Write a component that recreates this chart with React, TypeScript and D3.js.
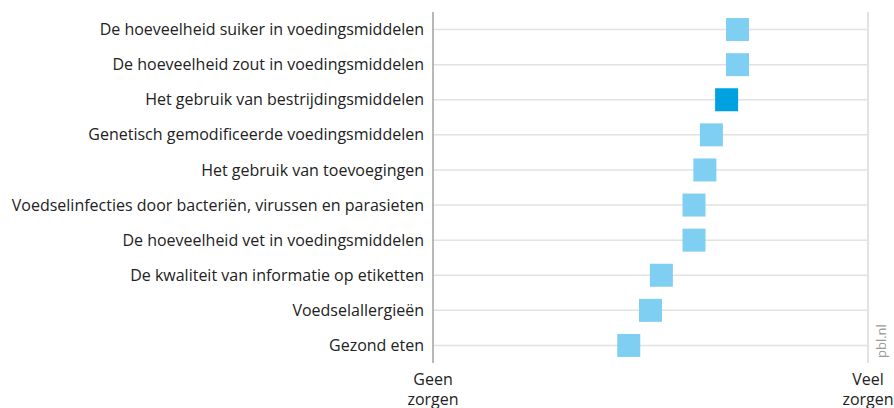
import React from "react";
import * as d3 from "d3";

const categories = [
  "De hoeveelheid suiker in voedingsmiddelen",
  "De hoeveelheid zout in voedingsmiddelen",
  "Het gebruik van bestrijdingsmiddelen",
  "Genetisch gemodificeerde voedingsmiddelen",
  "Het gebruik van toevoegingen",
  "Voedselinfecties door bacteriën, virussen en parasieten",
  "De hoeveelheid vet in voedingsmiddelen",
  "De kwaliteit van informatie op etiketten",
  "Voedselallergieën",
  "Gezond eten",
];
const values = [70, 70, 67.5, 64, 62.5, 60, 60, 52.5, 50, 45];
const highlighted = [false, false, true, false, false, false, false, false, false, false];
const axisLabels = [
  { value: 0, lines: ["Geen", "zorgen"] },
  { value: 100, lines: ["Veel", "zorgen"] },
];

const W = 894;
const H = 408;
const left = 433;
const right = 868;
const top = 12;
const bottom = 363;
const font = "'Open Sans', 'Noto Sans', sans-serif";

export default function App() {
  const x = d3.scaleLinear().domain([0, 100]).range([left, right]);
  const y = d3.scaleBand<string>().domain(categories).range([top, bottom]);
  const sq = 23;
  return (
    <svg width={W} height={H} style={{ position: "absolute", left: 0, top: 0, background: "#fff" }}>
      {categories.map((c) => {
        const cy = (y(c) as number) + y.bandwidth() / 2;
        return (
          <g key={c}>
            <line x1={left} x2={right} y1={cy} y2={cy} stroke="#e2e2e2" strokeWidth={1.5} />
            <text x={424} y={cy} dy="0.35em" textAnchor="end" fontFamily={font} fontSize={16} fill="#222">
              {c}
            </text>
          </g>
        );
      })}
      <line x1={right} x2={right} y1={top} y2={bottom} stroke="#e2e2e2" strokeWidth={2} />
      <line x1={left} x2={left} y1={top} y2={bottom} stroke="#a0a0a0" strokeWidth={1.5} />
      {categories.map((c, i) => {
        const cy = (y(c) as number) + y.bandwidth() / 2;
        return (
          <rect
            key={c}
            x={x(values[i]) - sq / 2}
            y={cy - sq / 2}
            width={sq}
            height={sq}
            fill={highlighted[i] ? "#00a1e1" : "#7fcff2"}
          />
        );
      })}
      {axisLabels.map((a) =>
        a.lines.map((l, j) => (
          <text
            key={a.value + l}
            x={x(a.value)}
            y={385 + j * 20}
            textAnchor="middle"
            fontFamily={font}
            fontSize={16}
            fill="#222"
          >
            {l}
          </text>
        ))
      )}
      <text
        transform={`translate(886, 358) rotate(-90)`}
        fontFamily={font}
        fontSize={13}
        fill="#999"
      >
        pbl.nl
      </text>
    </svg>
  );
}
